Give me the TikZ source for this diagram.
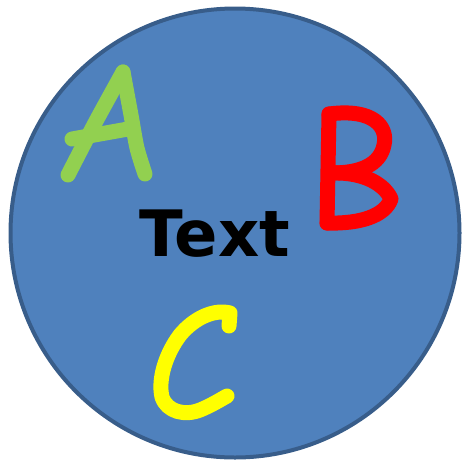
\documentclass[tikz,border=0pt]{standalone}
\usepackage{fontspec}
\newfontfamily\labelfont{DejaVu Sans}
\definecolor{fillblue}{HTML}{4F81BD}
\definecolor{edgeblue}{HTML}{385D8A}
\definecolor{agreen}{HTML}{92D050}
\definecolor{bred}{HTML}{FF0000}
\definecolor{cyellow}{HTML}{FFFF00}
\tikzset{
  letterstroke/.style={line width=15pt, line cap=round, line join=round},
  disc/.style={fill=fillblue, draw=edgeblue, line width=4pt},
}
\begin{document}
\begin{tikzpicture}[x=1pt,y=-1pt]
\useasboundingbox (0,0) rectangle (462,461);
\node[disc, circle, minimum size=449pt, inner sep=0pt] (circ) at (235,233) {};
% A
\draw[letterstroke, agreen] plot[smooth, tension=0.5] coordinates {(68,175) (95,123) (123,72)};
\draw[letterstroke, agreen] plot[smooth, tension=0.5] coordinates {(123,72) (131,115) (137,148) (145,174)};
\draw[letterstroke, agreen] (72,139) -- (128,129);
% B
\draw[letterstroke, bred] (329,114) -- (327,223);
\draw[letterstroke, bred] (329,114) .. controls (375,108) and (388,128) .. (384,145)
  .. controls (380,165) and (360,173) .. (332,173);
\draw[letterstroke, bred] (332,173) .. controls (365,172) and (385,185) .. (391,199)
  .. controls (385,216) and (360,224) .. (327,223);
% C
\draw[letterstroke, cyellow] (229,326) -- (230,313)
  .. controls (215,309) and (195,317) .. (180,335)
  .. controls (165,355) and (158,380) .. (162,397)
  .. controls (167,412) and (185,416) .. (200,410)
  .. controls (210,406) and (220,400) .. (227,396);
% Text
\node[font=\labelfont\bfseries\fontsize{64}{72}\selectfont, anchor=base, inner sep=0pt] (txt) at (215,256) {Text};
\end{tikzpicture}
\end{document}
